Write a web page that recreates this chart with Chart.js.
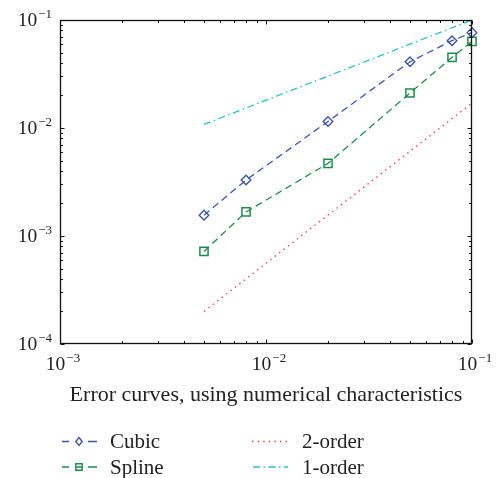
<!DOCTYPE html>
<html>
<head>
<meta charset="utf-8">
<script src="https://cdn.jsdelivr.net/npm/chart.js@4/dist/chart.umd.min.js"></script>
<style>
html,body{margin:0;padding:0;background:#fff;}
canvas{display:block;}
</style>
</head>
<body>
<canvas id="c" width="498" height="478"></canvas>
<script>
// ---- data ----
const stepSizes   = [0.005, 0.008, 0.02, 0.05, 0.08, 0.1];
const cubicErr    = [1.56e-3, 3.3e-3, 0.0115, 0.0411, 0.0643, 0.0764];
const splineErr   = [7.2e-4, 1.67e-3, 4.7e-3, 0.0211, 0.0451, 0.0635];
const refX        = [0.005, 0.1];
const order2Err   = [2.0e-4, 0.017];
const order1Err   = [0.0108, 0.1];
const seriesNames = ['Cubic', 'Spline', '2-order', '1-order'];
const xTickExps   = [-3, -2, -1];
const yTickExps   = [-4, -3, -2, -1];
const xTitle      = 'Error curves, using numerical characteristics';

const FONT = '"Liberation Serif", "DejaVu Serif", serif';
const COLORS = ['#3b55a8', '#1c8c4c', '#ff3a3a', '#22c4c8'];

const pts = (xs, ys) => xs.map((x, i) => ({x: x, y: ys[i]}));

const datasets = [
  {label: seriesNames[0], data: pts(stepSizes, cubicErr), borderColor: COLORS[0], borderWidth: 1.3,
   borderDash: [7, 4.5], pointStyle: 'rectRot', pointRadius: 4.8, pointBorderWidth: 1.4,
   pointBorderColor: COLORS[0], pointBackgroundColor: 'rgba(0,0,0,0)'},
  {label: seriesNames[1], data: pts(stepSizes, splineErr), borderColor: COLORS[1], borderWidth: 1.3,
   borderDash: [7, 4.5], pointStyle: 'rect', pointRadius: 5.8, pointBorderWidth: 1.5,
   pointBorderColor: COLORS[1], pointBackgroundColor: 'rgba(0,0,0,0)'},
  {label: seriesNames[2], data: pts(refX, order2Err), borderColor: COLORS[2], borderWidth: 1.4,
   borderDash: [1.4, 4.2], pointRadius: 0},
  {label: seriesNames[3], data: pts(refX, order1Err), borderColor: COLORS[3], borderWidth: 1.3,
   borderDash: [7, 3.5, 1.5, 3.5], pointRadius: 0}
];

function drawPow(ctx, x, y, exp, align) {
  const base = '10';
  const sup = '\u2212' + Math.abs(exp);
  ctx.font = '19.5px ' + FONT;
  const wb = ctx.measureText(base).width;
  ctx.font = '13px ' + FONT;
  const ws = ctx.measureText(sup).width;
  const total = wb + 1 + ws;
  let x0 = align === 'right' ? x - total : x - total / 2;
  ctx.textAlign = 'left';
  ctx.textBaseline = 'alphabetic';
  ctx.font = '19.5px ' + FONT;
  ctx.fillText(base, x0, y + 6.5);
  ctx.font = '13px ' + FONT;
  ctx.fillText(sup, x0 + wb + 1, y - 1);
}

const framePlugin = {
  id: 'frame',
  afterDraw(chart) {
    const ctx = chart.ctx;
    const a = chart.chartArea;
    const xs = chart.scales.x, ys = chart.scales.y;
    ctx.save();
    ctx.strokeStyle = '#111';
    ctx.lineWidth = 1.3;
    ctx.setLineDash([]);
    const L = Math.round(a.left) + 0.5, R = Math.round(a.right) - 0.5;
    const T = Math.round(a.top) + 0.5, B = Math.round(a.bottom) - 0.5;
    ctx.strokeRect(L, T, R - L, B - T);
    ctx.lineWidth = 1;
    ctx.beginPath();
    const xMax = Math.pow(10, xTickExps[xTickExps.length - 1]) * 1.0001;
    for (let e = xTickExps[0]; e <= xTickExps[xTickExps.length - 1]; e++) {
      for (let m = 1; m <= 9; m++) {
        const v = m * Math.pow(10, e);
        if (v > xMax) break;
        const px = Math.round(xs.getPixelForValue(v)) + 0.5;
        const len = m === 1 ? 4 : 2.5;
        ctx.moveTo(px, B); ctx.lineTo(px, B - len);
        ctx.moveTo(px, T); ctx.lineTo(px, T + len);
      }
    }
    const yMax = Math.pow(10, yTickExps[yTickExps.length - 1]) * 1.0001;
    for (let e = yTickExps[0]; e <= yTickExps[yTickExps.length - 1]; e++) {
      for (let m = 1; m <= 9; m++) {
        const v = m * Math.pow(10, e);
        if (v > yMax) break;
        const py = Math.round(ys.getPixelForValue(v)) + 0.5;
        const len = m === 1 ? 4 : 2.5;
        ctx.moveTo(L, py); ctx.lineTo(L + len, py);
        ctx.moveTo(R, py); ctx.lineTo(R - len, py);
      }
    }
    ctx.stroke();

    // tick labels
    ctx.fillStyle = '#222';
    xTickExps.forEach(e => drawPow(ctx, xs.getPixelForValue(Math.pow(10, e)) + 3, a.bottom + 19, e, 'center'));
    yTickExps.forEach(e => drawPow(ctx, a.left - 8, ys.getPixelForValue(Math.pow(10, e)) - 1, e, 'right'));

    // axis title
    ctx.font = '22px ' + FONT;
    ctx.textAlign = 'center';
    ctx.textBaseline = 'alphabetic';
    ctx.fillText(xTitle, (a.left + a.right) / 2, a.bottom + 57);

    // legend (two columns)
    const cells = [
      {ds: 0, x: 62, y: 441.5}, {ds: 1, x: 62, y: 467},
      {ds: 2, x: 252, y: 441.5}, {ds: 3, x: 252, y: 467}
    ];
    cells.forEach(c => {
      const d = chart.data.datasets[c.ds];
      ctx.strokeStyle = d.borderColor;
      ctx.lineWidth = d.borderWidth;
      if (d.pointRadius > 0) {
        ctx.setLineDash([]);
        ctx.beginPath();
        ctx.moveTo(c.x, c.y); ctx.lineTo(c.x + 7, c.y);
        ctx.moveTo(c.x + 26, c.y); ctx.lineTo(c.x + 35, c.y);
        ctx.stroke();
        const mx = c.x + 17;
        ctx.lineWidth = 1.4;
        ctx.beginPath();
        if (d.pointStyle === 'rectRot') {
          ctx.moveTo(mx, c.y - 4); ctx.lineTo(mx + 3.2, c.y); ctx.lineTo(mx, c.y + 4); ctx.lineTo(mx - 3.2, c.y); ctx.closePath();
        } else {
          ctx.rect(mx - 3.2, c.y - 3.2, 6.4, 6.4);
          ctx.moveTo(mx - 3.2, c.y); ctx.lineTo(mx + 3.2, c.y);
        }
        ctx.stroke();
      } else {
        ctx.setLineDash(d.borderDash);
        ctx.beginPath();
        ctx.moveTo(c.x + (c.ds === 3 ? 1 : 0), c.y); ctx.lineTo(c.x + 36, c.y);
        ctx.stroke();
        ctx.setLineDash([]);
      }
      ctx.fillStyle = '#222';
      ctx.font = '21px ' + FONT;
      ctx.textAlign = 'left';
      ctx.textBaseline = 'middle';
      ctx.fillText(d.label, c.x + (d.pointRadius > 0 ? 48 : 50), c.y + 1);
    });
    ctx.restore();
  }
};

new Chart(document.getElementById('c'), {
  type: 'line',
  data: {datasets: datasets},
  options: {
    responsive: false,
    animation: false,
    devicePixelRatio: 1,
    layout: {padding: {left: 60, right: 26, top: 20, bottom: 134}},
    plugins: {legend: {display: false}, tooltip: {enabled: false}, title: {display: false}},
    elements: {line: {tension: 0, fill: false}},
    datasets: {line: {clip: false}},
    scales: {
      x: {type: 'logarithmic', min: 1e-3, max: 1e-1, display: false},
      y: {type: 'logarithmic', min: 1e-4, max: 1e-1, display: false}
    }
  },
  plugins: [framePlugin]
});
</script>
</body>
</html>
